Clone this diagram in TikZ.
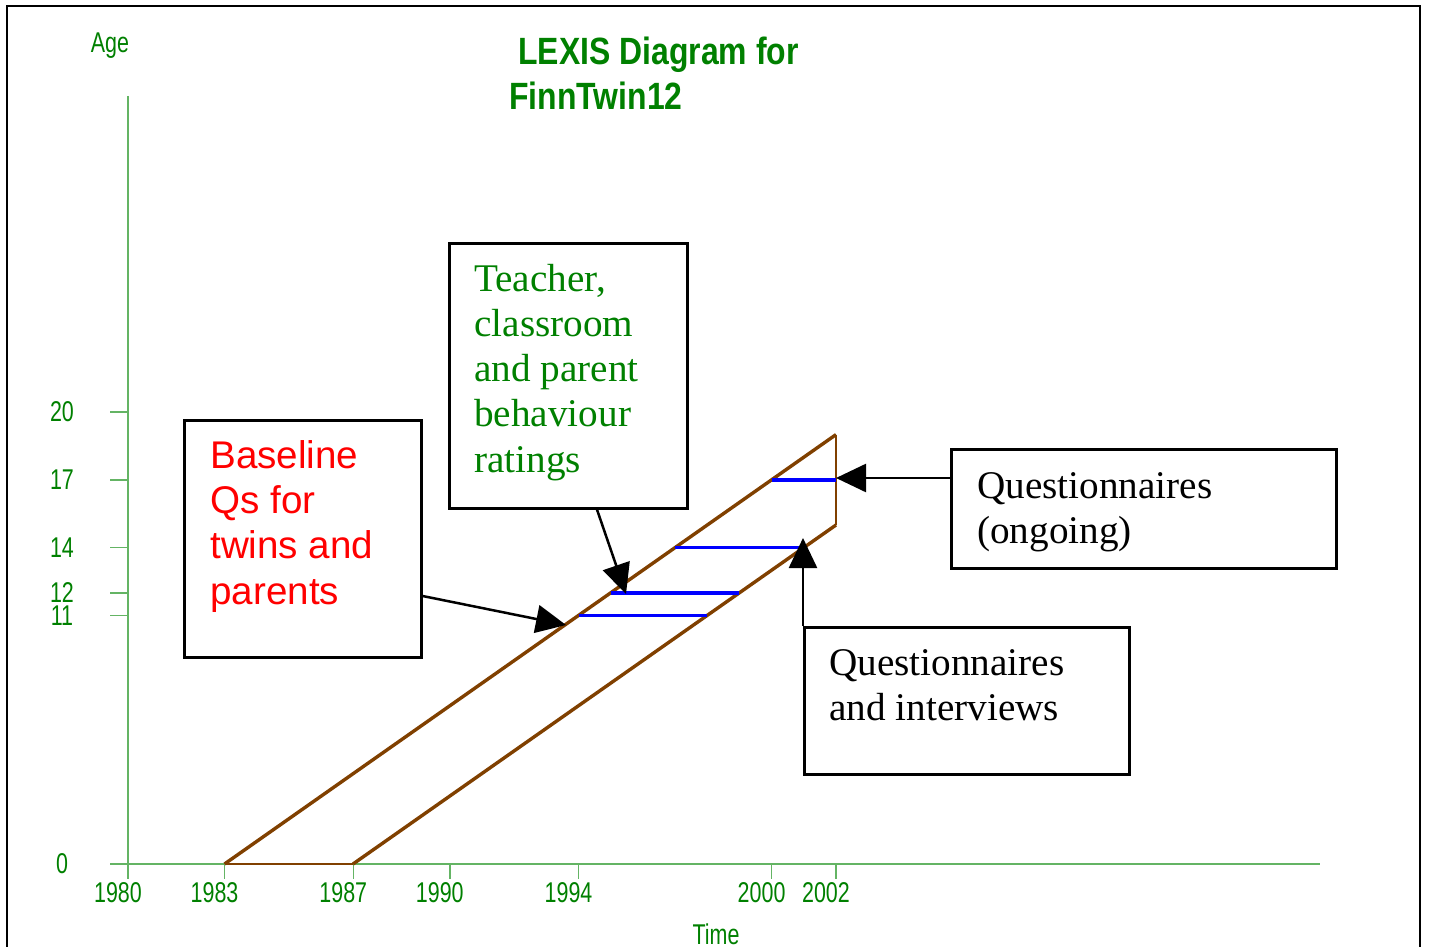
\documentclass[tikz,border=0pt]{standalone}
\usepackage{fontspec}
\setmainfont{Liberation Serif}
\newfontfamily\arialf{Liberation Sans}
\usetikzlibrary{arrows.meta}
\definecolor{txtgreen}{RGB}{0,128,0}
\definecolor{axgreen}{RGB}{100,180,100}
\definecolor{lexbrown}{RGB}{128,64,0}
\definecolor{ageblue}{RGB}{0,0,255}
\definecolor{basered}{RGB}{255,0,0}
\newcommand\lxbox[5]{\parbox[t][#2][t]{#1}{\raggedright\leftskip=#3\relax\rule{0pt}{#4}\ignorespaces#5}}
\newcommand\narrowtxt[1]{\scalebox{0.75}[1]{#1}}
\begin{document}
\begin{tikzpicture}[x=0.5pt,y=-0.5pt,
  axisline/.style={draw=axgreen, line width=0.75pt},
  lbl/.style={text=txtgreen, inner sep=0pt, font=\arialf\fontsize{14.3}{16}\selectfont},
  titlest/.style={text=txtgreen, inner sep=0pt, anchor=base west, font=\arialf\bfseries\fontsize{19}{22}\selectfont},
  lifeline/.style={draw=lexbrown, line width=1.7pt},
  edgeline/.style={draw=lexbrown, line width=0.6pt},
  ageline/.style={draw=ageblue, line width=1.8pt},
  callout/.style={draw=black, line width=1.25pt, -{Triangle[length=15pt,width=14pt]}},
  boxst/.style={draw=black, line width=1.3pt, inner sep=0pt, anchor=north west},
  sansbox/.style={boxst, text=basered, font=\arialf\fontsize{19.3}{22.65}\selectfont},
  serifbox/.style={boxst, font=\fontsize{19.6}{22.6}\selectfont}]
\useasboundingbox (0,0) rectangle (1431,947);
% frame
\draw[line width=1pt] (7,950) -- (7,6) -- (1420,6) -- (1420,950);
% axes
\draw[axisline] (128,96) -- (128,879);
\draw[axisline] (110,864) -- (1320,864);
\foreach \yr in {1980,1983,1987,1990,1994,2000,2002}{
  \pgfmathsetmacro\xx{128+(\yr-1980)*32.18}
  \draw[axisline] (\xx,864) -- (\xx,879);
  \node[lbl] (xl\yr) at (\xx-10,893) {\narrowtxt{\yr}};
}
\foreach \ag in {0,11,12,14,17,20}{
  \pgfmathsetmacro\yy{864-\ag*22.6}
  \draw[axisline] (110,\yy) -- (128,\yy);
  \node[lbl] (yl\ag) at (62,\yy) {\narrowtxt{\ag}};
}
\node[lbl] (agelbl) at (110,46) {\narrowtxt{Age}};
\node[lbl] (timelbl) at (716,934) {\narrowtxt{Time}};
% title
\node[titlest] (title1) at (518,65) {\scalebox{0.84}[1]{LEXIS Diagram for}};
\node[titlest] (title2) at (509,110) {\scalebox{0.84}[1]{FinnTwin12}};
% lexis band
\coordinate (a0) at (224.5,864);
\coordinate (b0) at (353,864);
\coordinate (a1) at (836,434.6);
\coordinate (b1) at (836,525);
\draw[edgeline] (a0) -- (b0);
\draw[edgeline] (a1) -- (b1);
\draw[lifeline] (a0) -- (a1);
\draw[lifeline] (b0) -- (b1);
% age lines
\draw[ageline] (578.5,615.4) -- (707.2,615.4);
\draw[ageline] (610.7,592.8) -- (739.4,592.8);
\draw[ageline] (675.1,547.6) -- (803.8,547.6);
\draw[ageline] (771.6,479.8) -- (836,479.8);
% boxes
\node[sansbox] (base) at (183,419) {\lxbox{118.5pt}{118.5pt}{13pt}{24pt}{Baseline\\Qs for\\twins and\\parents}};
\node[serifbox, text=txtgreen] (teach) at (448,242) {\lxbox{119pt}{132.5pt}{12.5pt}{24pt}{Teacher,\\classroom\\and parent\\behaviour\\ratings}};
\node[serifbox] (qong) at (950,448) {\lxbox{192.5pt}{59.5pt}{13pt}{24.5pt}{Questionnaires\\(ongoing)}};
\node[serifbox] (qint) at (803,626) {\lxbox{162.5pt}{73.5pt}{12.5pt}{24pt}{Questionnaires\\and interviews}};
% arrow tips
\coordinate (t1) at (566,625);
\coordinate (t2) at (626,594);
\coordinate (t3) at (836,478);
\coordinate (t4) at (803,538);
\draw[callout] ([yshift=-88.5pt]base.north east) -- (t1);
\draw[callout] ([xshift=74.5pt]teach.south west) -- (t2);
\draw[callout] ([yshift=-15pt]qong.north west) -- (t3);
\draw[callout] (qint.north west) -- (t4);
\end{tikzpicture}
\end{document}
